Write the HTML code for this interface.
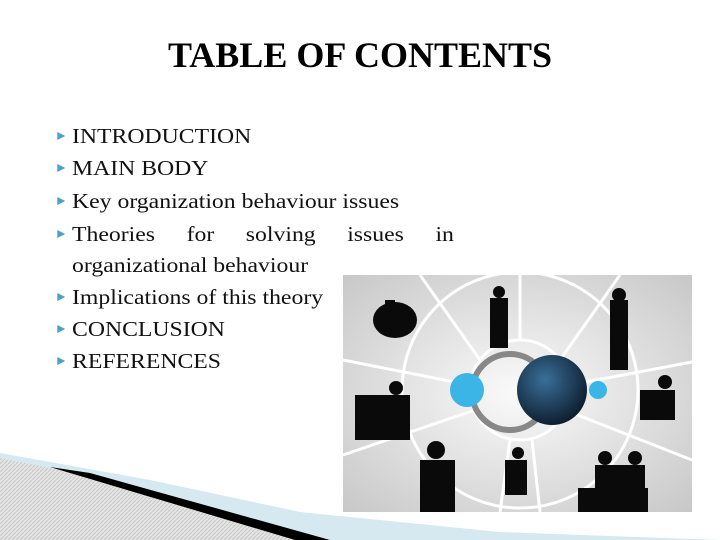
<!DOCTYPE html>
<html><head><style>
body{margin:0;width:720px;height:540px;overflow:hidden;background:#fff;position:relative;font-family:"Liberation Serif",serif;}
h1{position:absolute;top:34px;left:0;width:720px;text-align:center;margin:0;font-size:36px;font-weight:bold;color:#000;}
.b{position:absolute;left:72px;font-size:21px;color:#111;line-height:24px;transform:scaleX(1.13);transform-origin:0 0;white-space:nowrap;}
.b.d:before{content:"";position:absolute;left:-13px;top:8px;border-left:7px solid #4aa0c8;border-top:4px solid transparent;border-bottom:4px solid transparent;}
</style></head><body>
<h1>TABLE OF CONTENTS</h1>
<div class="b d" style="top:124px">INTRODUCTION</div>
<div class="b d" style="top:156px">MAIN BODY</div>
<div class="b d" style="top:189px">Key organization behaviour issues</div>
<div class="b d" style="top:222px;width:338px;display:flex;justify-content:space-between"><span>Theories</span><span>for</span><span>solving</span><span>issues</span><span>in</span></div>
<div class="b" style="top:253px">organizational behaviour</div>
<div class="b d" style="top:285px">Implications of this theory</div>
<div class="b d" style="top:317px">CONCLUSION</div>
<div class="b d" style="top:349px">REFERENCES</div>
<svg width="720" height="540" style="position:absolute;left:0;top:0" viewBox="0 0 720 540">
<defs>
<pattern id="h" width="4" height="4" patternUnits="userSpaceOnUse"><rect width="4" height="4" fill="#e4e4e4"/><path d="M0 4L4 0" stroke="#c8c8c8" stroke-width="1"/></pattern>
<radialGradient id="g" cx="0.5" cy="0.5" r="0.7"><stop offset="0" stop-color="#fafafa"/><stop offset="1" stop-color="#c8c8c8"/></radialGradient>
<radialGradient id="c" cx="0.4" cy="0.35" r="0.7"><stop offset="0" stop-color="#3a6f99"/><stop offset="1" stop-color="#0c1a2a"/></radialGradient>
</defs>
<polygon points="0,453 150,480 300,512 500,532 720,540 0,540" fill="#d6e8f0"/>
<polygon points="0,458 60,470 300,540 0,540" fill="url(#h)"/>
<polygon points="50,467 90,473 330,540 295,540" fill="#000"/>
<g>
<rect x="343" y="275" width="349" height="237" fill="url(#g)"/>
<g stroke="#fff" stroke-width="3" fill="none">
<circle cx="520" cy="390" r="118"/><circle cx="520" cy="390" r="50"/>
<line x1="520" y1="275" x2="520" y2="340"/><line x1="420" y1="275" x2="480" y2="360"/><line x1="620" y1="275" x2="560" y2="360"/>
<line x1="343" y1="360" x2="470" y2="385"/><line x1="692" y1="362" x2="570" y2="385"/>
<line x1="343" y1="455" x2="475" y2="410"/><line x1="692" y1="460" x2="565" y2="410"/>
<line x1="500" y1="512" x2="510" y2="440"/><line x1="540" y1="512" x2="532" y2="440"/>
</g>
<circle cx="510" cy="392" r="38" fill="none" stroke="#888" stroke-width="6"/>
<circle cx="467" cy="390" r="17" fill="#3bb4e6"/>
<circle cx="598" cy="390" r="9" fill="#3bb4e6"/>
<circle cx="552" cy="390" r="35" fill="url(#c)"/>
<g fill="#0a0a0a">
<ellipse cx="395" cy="320" rx="22" ry="18"/><rect x="385" y="300" width="10" height="15"/>
<rect x="490" y="298" width="18" height="50"/><circle cx="499" cy="292" r="6"/>
<rect x="610" y="300" width="18" height="70"/><circle cx="619" cy="295" r="7"/>
<rect x="355" y="395" width="55" height="45"/><circle cx="396" cy="388" r="7"/>
<rect x="640" y="390" width="35" height="30"/><circle cx="665" cy="382" r="7"/>
<rect x="420" y="460" width="35" height="52"/><circle cx="436" cy="450" r="9"/>
<rect x="505" y="460" width="22" height="35"/><circle cx="518" cy="453" r="6"/>
<rect x="578" y="488" width="70" height="24"/><circle cx="605" cy="458" r="7"/><circle cx="635" cy="458" r="7"/><rect x="595" y="465" width="50" height="25"/>
</g>
</g>
</svg>
</body></html>
